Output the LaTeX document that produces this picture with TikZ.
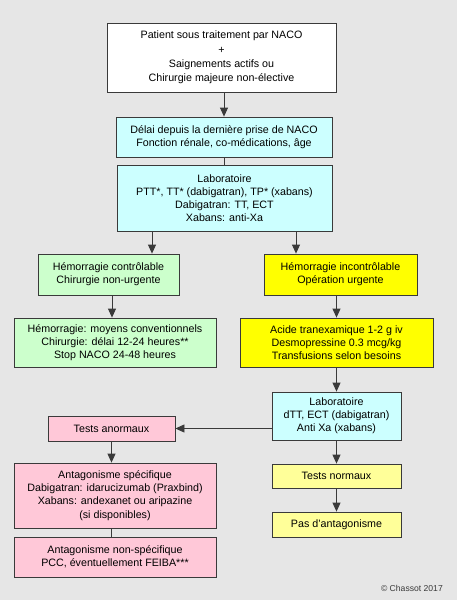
\documentclass[tikz,border=0pt]{standalone}
\usepackage{fontspec}
\setmainfont{Liberation Sans}
\usetikzlibrary{arrows.meta}

\definecolor{fond}{HTML}{E6E6E6}
\definecolor{cyanclair}{HTML}{CCFFFF}
\definecolor{vertclair}{HTML}{CCFFCC}
\definecolor{jaunevif}{HTML}{FFFF00}
\definecolor{jauneclair}{HTML}{FFFF99}
\definecolor{roseclair}{HTML}{FFC8D8}
\definecolor{trait}{HTML}{3A3A3A}

\tikzset{
  boite/.style={draw=trait, line width=0.8pt, rectangle, align=center,
    inner sep=0pt, font=\fontsize{10.7}{13.2}\selectfont},
  fleche/.style={draw=trait, line width=0.8pt, -{Triangle[length=9pt,width=8pt]}},
  lien/.style={draw=trait, line width=0.8pt}
}

\begin{document}
\begin{tikzpicture}[x=1pt, y=-1pt]
  % fond gris, format 457 x 600
  \fill[fond] (0,0) rectangle (457,600);
  \useasboundingbox (0,0) rectangle (457,600);

  % tronc commun
  \node[boite, fill=white, minimum width=229pt, minimum height=69pt,
    font=\fontsize{10.7}{14.2}\selectfont] (patient) at (221.5,57.5)
    {Patient sous traitement par NACO\\+\\Saignements actifs ou\\Chirurgie majeure non-élective};
  \node[boite, fill=cyanclair, minimum width=216pt, minimum height=40pt] (delai) at (224,137)
    {Délai depuis la dernière prise de NACO\\Fonction rénale, co-médications, âge};
  \node[boite, fill=cyanclair, minimum width=215pt, minimum height=66pt] (labo) at (224.5,198)
    {Laboratoire\\PTT*, TT* (dabigatran), TP* (xabans)\\Dabigatran: TT, ECT\\Xabans: anti-Xa};

  % branche gauche (hémorragie contrôlable)
  \node[boite, fill=vertclair, minimum width=141pt, minimum height=41pt] (controle) at (108.5,274.5)
    {Hémorragie contrôlable\\Chirurgie non-urgente};
  \node[boite, fill=vertclair, minimum width=202pt, minimum height=49pt] (conventionnel) at (115,342.5)
    {Hémorragie: moyens conventionnels\\Chirurgie: délai 12-24 heures**\\Stop NACO 24-48 heures};

  % branche droite (hémorragie incontrôlable)
  \node[boite, fill=jaunevif, minimum width=153pt, minimum height=41pt] (incontrole) at (340.5,274.5)
    {Hémorragie incontrôlable\\Opération urgente};
  \node[boite, fill=jaunevif, minimum width=193pt, minimum height=49pt] (acide) at (336.5,342.5)
    {Acide tranexamique 1-2 g iv\\Desmopressine 0.3 mcg/kg\\Transfusions selon besoins};
  \node[boite, fill=cyanclair, minimum width=129pt, minimum height=48pt] (labobis) at (336.5,416)
    {Laboratoire\\dTT, ECT (dabigatran)\\Anti Xa (xabans)};
  \node[boite, fill=jauneclair, minimum width=129pt, minimum height=24pt] (normaux) at (336.5,476)
    {Tests normaux};
  \node[boite, fill=jauneclair, minimum width=129pt, minimum height=25pt] (pasanta) at (336.5,524.5)
    {Pas d’antagonisme};

  % antagonisme
  \node[boite, fill=roseclair, minimum width=127pt, minimum height=25pt] (anormaux) at (111.5,428.5)
    {Tests anormaux};
  \node[boite, fill=roseclair, minimum width=202pt, minimum height=65pt] (specifique) at (115,495.5)
    {Antagonisme spécifique\\Dabigatran: idarucizumab (Praxbind)\\Xabans: andexanet ou aripazine\\(si disponibles)};
  \node[boite, fill=roseclair, minimum width=202pt, minimum height=40pt] (nonspec) at (115,557)
    {Antagonisme non-spécifique\\PCC, éventuellement FEIBA***};

  % connecteurs
  \draw[fleche] (patient.south -| delai.north) -- (delai.north);
  \draw[lien] (delai.south) -- (delai.south |- labo.north);
  \draw[fleche] ([xshift=-72.5pt]labo.south) -- ([xshift=-72.5pt]labo.south |- controle.north);
  \draw[fleche] ([xshift=71.5pt]labo.south) -- ([xshift=71.5pt]labo.south |- incontrole.north);
  \draw[fleche] ([xshift=3.5pt]controle.south) -- ([xshift=3.5pt]controle.south |- conventionnel.north);
  \draw[fleche] (acide.north |- incontrole.south) -- (acide.north);
  \draw[fleche] (acide.south) -- (labobis.north);
  \draw[fleche] (labobis.west |- anormaux.east) -- (anormaux.east);
  \draw[fleche] (labobis.south) -- (normaux.north);
  \draw[fleche] (normaux.south) -- (pasanta.north);
  \draw[fleche] (anormaux.south) -- (anormaux.south |- specifique.north);
  \draw[lien] (anormaux.south |- specifique.south) -- (anormaux.south |- nonspec.north);

  % signature
  \node[anchor=east, inner sep=0pt, text=trait, font=\fontsize{8.6}{10}\selectfont] (signature) at (443,588)
    {© Chassot 2017};
\end{tikzpicture}
\end{document}
